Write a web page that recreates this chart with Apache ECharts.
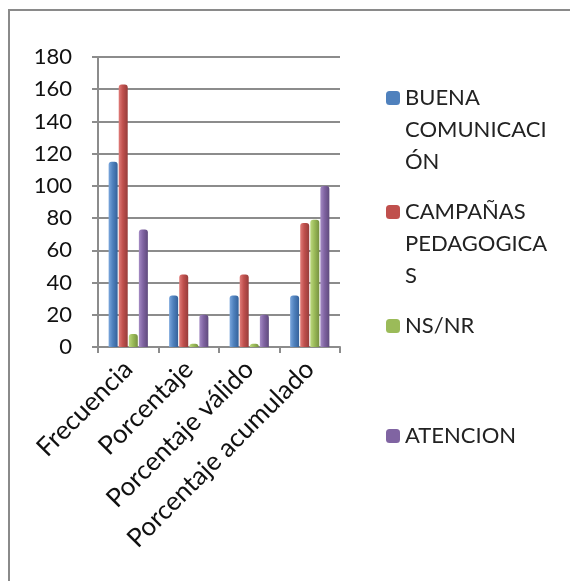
<!DOCTYPE html>
<html>
<head>
<meta charset="utf-8">
<script src="https://cdn.jsdelivr.net/npm/echarts@6/dist/echarts.min.js"></script>
<style>
html,body{margin:0;padding:0;background:#fff;}
#c{width:570px;height:581px;}
</style>
</head>
<body>
<div id="c"></div>
<script>
const categories = ['Frecuencia', 'Porcentaje', 'Porcentaje válido', 'Porcentaje acumulado'];
const seriesNames = ['BUENA COMUNICACIÓN', 'CAMPAÑAS PEDAGOGICAS', 'NS/NR', 'ATENCION'];
const legendLabels = ['BUENA\nCOMUNICACI\nÓN', 'CAMPAÑAS\nPEDAGOGICA\nS', 'NS/NR', 'ATENCION'];
const buenaComunicacion = [115, 32, 32, 32];
const campanasPedagogicas = [163, 45, 45, 77];
const nsnr = [8, 2, 2, 79];
const atencion = [73, 20, 20, 100];
const yTicks = [0, 20, 40, 60, 80, 100, 120, 140, 160, 180];

const seriesValues = [buenaComunicacion, campanasPedagogicas, nsnr, atencion];
const colors = [
  ['#7aa6dc', '#4f81bd', '#34619a'],
  ['#e07c79', '#c0504d', '#963c3a'],
  ['#bcd87f', '#9bbb59', '#769140'],
  ['#a48bc4', '#8064a2', '#5f4a7c']
];
const baseColors = colors.map(c => c[1]);
const FONT = 'Lato';

const chart = echarts.init(document.getElementById('c'), null, {renderer: 'canvas'});

const LH = 32;
const firstLineCenters = [98, 212, 326, 436];
const legends = seriesNames.map((name, i) => {
  const lines = legendLabels[i].split('\n').length;
  const text = lines > 1 ? '\n'.repeat(lines - 1) + legendLabels[i] : legendLabels[i];
  const total = lines > 1 ? (2 * lines - 1) : 1;
  return {
    orient: 'vertical',
    left: 386,
    top: Math.round(firstLineCenters[i] - total * LH / 2),
    padding: 0,
    itemWidth: 14,
    itemHeight: 14,
    data: [name],
    formatter: () => text,
    itemStyle: {color: baseColors[i]},
    textStyle: {
      fontFamily: FONT,
      fontSize: 22,
      color: '#222',
      lineHeight: LH
    },
    selectedMode: false
  };
});

const option = {
  animation: false,
  backgroundColor: '#fff',
  graphic: [{
    type: 'rect',
    shape: {x: 9, y: 10, width: 600, height: 620},
    style: {fill: 'none', stroke: '#8a8a8a', lineWidth: 2},
    silent: true
  }],
  legend: legends,
  grid: {left: 98, right: 230, top: 57, bottom: 234, containLabel: false},
  xAxis: {
    type: 'category',
    data: categories,
    axisLine: {lineStyle: {color: '#8c8c8c', width: 2}},
    axisTick: {show: true, length: 6, lineStyle: {color: '#8c8c8c', width: 2}},
    axisLabel: {
      rotate: 45,
      interval: 0,
      margin: 18,
      fontFamily: FONT,
      fontSize: 26,
      color: '#111'
    }
  },
  yAxis: {
    type: 'value',
    min: 0,
    max: 180,
    interval: 20,
    axisLine: {show: true, lineStyle: {color: '#8c8c8c', width: 2}},
    axisTick: {show: true, length: 6, lineStyle: {color: '#8c8c8c', width: 2}},
    splitLine: {lineStyle: {color: '#8c8c8c', width: 2}},
    axisLabel: {
      margin: 26,
      fontFamily: FONT,
      fontSize: 22,
      color: '#111',
      formatter: v => yTicks.indexOf(v) >= 0 ? String(v) : ''
    }
  },
  series: seriesNames.map((name, i) => ({
    name: name,
    type: 'bar',
    data: seriesValues[i],
    barWidth: 9,
    barGap: '12%',
    itemStyle: {
      borderRadius: [3, 3, 0, 0],
      color: {
        type: 'linear', x: 0, y: 0, x2: 1, y2: 0,
        colorStops: [
          {offset: 0, color: colors[i][0]},
          {offset: 0.45, color: colors[i][1]},
          {offset: 1, color: colors[i][2]}
        ]
      }
    }
  }))
};
chart.setOption(option);
</script>
</body>
</html>
